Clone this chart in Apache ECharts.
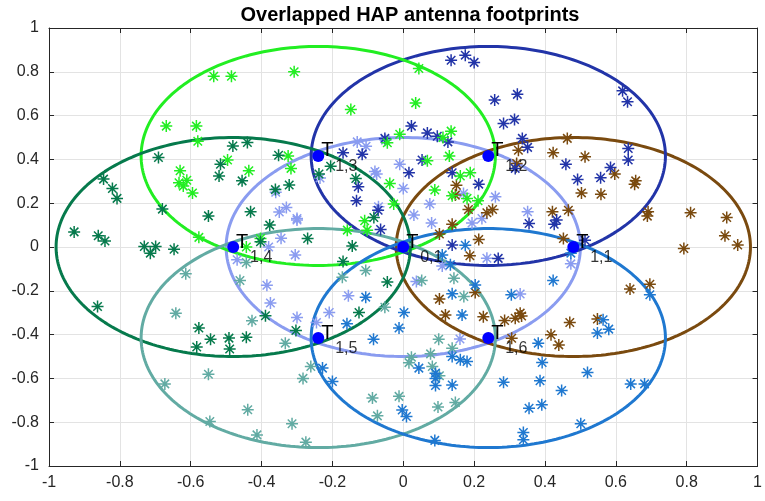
<!DOCTYPE html>
<html>
<head>
<meta charset="utf-8">
<script src="https://cdn.jsdelivr.net/npm/echarts@6/dist/echarts.min.js"></script>
<style>
  html, body { margin: 0; padding: 0; background: #ffffff; }
  #chart { width: 765px; height: 501px; }
</style>
</head>
<body>
<div id="chart"></div>
<script>
// Antenna footprints: hexagonal layout around the central cell
const cellNames = ['0,1', '1,1', '1,2', '1,3', '1,4', '1,5', '1,6'];
const cellCentersX = [0, 0.48, 0.24, -0.24, -0.48, -0.24, 0.24];
const cellCentersY = [0, 0, 0.4157, 0.4157, 0, -0.4157, -0.4157];
const footprintRadius = 0.5;

const axisTicks = [-1, -0.8, -0.6, -0.4, -0.2, 0, 0.2, 0.4, 0.6, 0.8, 1];

// User positions served by each antenna
const users01 = [[-0.36,0.25],[-0.35,0.16],[-0.33,0.18],[-0.30,0.13],[-0.345,0.04],[-0.38,0.0],[-0.13,0.48],[-0.105,0.46],[-0.235,0.315],[-0.08,0.345],[-0.05,0.488],[-0.01,0.378],[-0.075,0.333],[0.0,0.267],[0.075,0.196],[0.03,0.146],[0.08,0.11],[-0.07,0.184],[-0.30,0.123],[0.17,0.244],[0.26,0.229],[0.222,0.13],[0.194,0.11],[0.351,0.161],[-0.469,-0.058],[-0.385,-0.175],[-0.375,-0.256],[-0.305,-0.036],[-0.30,-0.322],[-0.209,-0.299],[-0.245,-0.345],[-0.155,-0.223],[0.037,-0.157],[0.16,-0.42],[0.236,-0.051],[0.11,-0.087],[0.473,-0.077],[0.33,-0.215]];
const users11 = [[0.325,0.442],[0.32,0.381],[0.15,0.282],[0.147,0.237],[0.184,0.171],[0.236,0.156],[0.252,0.171],[0.138,0.104],[0.102,0.059],[0.213,0.034],[0.463,0.496],[0.423,0.43],[0.513,0.412],[0.597,0.333],[0.656,0.302],[0.653,0.287],[0.503,0.247],[0.558,0.241],[0.421,0.161],[0.466,0.168],[0.691,0.161],[0.689,0.141],[0.811,0.156],[0.913,0.135],[0.908,0.051],[0.944,0.009],[0.792,-0.007],[0.452,0.039],[0.64,-0.192],[0.696,-0.17],[0.47,-0.345],[0.548,-0.329],[0.417,-0.401],[0.439,-0.447],[0.334,-0.315],[0.188,-0.04],[0.102,-0.238],[0.119,-0.31],[0.226,-0.318],[0.203,-0.208],[0.286,-0.336],[0.316,-0.325],[0.33,-0.302],[0.306,-0.417]];
const users12 = [[0.135,0.853],[0.175,0.876],[0.2,0.843],[0.258,0.671],[0.322,0.697],[0.283,0.564],[0.314,0.582],[0.336,0.496],[0.023,0.552],[0.068,0.521],[0.096,0.506],[0.126,0.48],[-0.052,0.496],[-0.17,0.43],[-0.116,0.424],[0.053,0.397],[0.016,0.339],[0.138,0.339],[0.213,0.287],[0.316,0.359],[-0.127,0.275],[-0.132,0.211],[-0.071,0.168],[-0.064,0.08],[0.138,0.009],[0.619,0.713],[0.633,0.663],[0.351,0.455],[0.459,0.378],[0.492,0.308],[0.557,0.316],[0.585,0.363],[0.635,0.45],[0.635,0.397],[0.355,0.107],[0.433,0.123],[0.426,0.104],[0.513,0.031],[0.268,-0.052]];
const users13 = [[-0.535,0.78],[-0.485,0.78],[-0.669,0.552],[-0.584,0.552],[-0.58,0.483],[-0.496,0.397],[-0.63,0.348],[-0.436,0.348],[-0.611,0.305],[-0.633,0.293],[-0.621,0.278],[-0.595,0.247],[-0.577,0.044],[-0.403,0.039],[-0.443,0.0],[-0.308,0.8],[0.044,0.815],[-0.148,0.628],[0.035,0.658],[-0.01,0.515],[-0.045,0.476],[0.135,0.529],[0.112,0.5],[0.13,0.415],[0.068,0.394],[-0.317,0.359],[-0.325,0.416],[-0.038,0.29],[0.089,0.26],[0.161,0.324],[0.189,0.339],[0.138,0.234],[0.18,0.222],[0.211,0.211],[-0.027,0.196],[-0.109,0.12],[-0.158,0.077],[-0.102,0.077]];
const users14 = [[-0.691,0.409],[-0.481,0.461],[-0.44,0.477],[-0.516,0.378],[-0.52,0.324],[-0.455,0.302],[-0.352,0.419],[-0.846,0.31],[-0.821,0.267],[-0.808,0.222],[-0.68,0.173],[-0.55,0.142],[-0.431,0.161],[-0.377,0.1],[-0.361,0.262],[-0.929,0.069],[-0.861,0.051],[-0.842,0.027],[-0.731,0.002],[-0.699,0.002],[-0.714,-0.028],[-0.647,-0.01],[-0.403,0.024],[-0.322,0.283],[-0.238,0.333],[-0.205,0.369],[-0.134,0.313],[-0.27,0.039],[-0.083,0.135],[-0.144,0.004],[-0.863,-0.272],[-0.577,-0.37],[-0.544,-0.421],[-0.492,-0.416],[-0.443,-0.412],[-0.583,-0.457],[-0.49,-0.466],[-0.389,-0.314],[-0.17,-0.066],[-0.045,-0.16],[-0.125,-0.299],[-0.303,-0.381]];
const users15 = [[-0.614,-0.122],[-0.461,-0.153],[-0.443,-0.071],[-0.642,-0.302],[-0.427,-0.337],[-0.333,-0.439],[-0.55,-0.581],[-0.673,-0.625],[-0.439,-0.743],[-0.546,-0.797],[-0.413,-0.858],[-0.106,-0.107],[-0.172,-0.138],[0.052,-0.153],[-0.052,-0.275],[0.1,-0.421],[0.138,-0.462],[0.023,-0.503],[0.016,-0.528],[0.077,-0.488],[0.082,-0.546],[0.102,-0.588],[-0.261,-0.546],[-0.283,-0.6],[-0.087,-0.69],[-0.012,-0.682],[-0.073,-0.771],[0.098,-0.731],[0.147,-0.71],[-0.314,-0.807],[-0.275,-0.891],[0.171,-0.226],[0.143,-0.143]];
const users16 = [[0.133,-0.081],[0.203,-0.173],[0.138,-0.214],[0.166,-0.31],[0.002,-0.299],[-0.012,-0.37],[-0.106,-0.229],[-0.159,-0.351],[-0.084,-0.421],[0.138,-0.5],[0.161,-0.515],[0.18,-0.523],[0.044,-0.553],[0.091,-0.576],[0.091,-0.6],[0.091,-0.632],[0.138,-0.63],[-0.228,-0.553],[-0.2,-0.614],[-0.003,-0.744],[0.009,-0.774],[0.089,-0.883],[0.283,-0.618],[0.305,-0.218],[0.473,-0.028],[0.423,-0.153],[0.696,-0.218],[0.564,-0.332],[0.58,-0.375],[0.548,-0.393],[0.381,-0.439],[0.392,-0.527],[0.386,-0.611],[0.52,-0.573],[0.447,-0.655],[0.642,-0.625],[0.681,-0.625],[0.355,-0.736],[0.391,-0.72],[0.501,-0.807],[0.339,-0.847],[0.339,-0.88],[0.175,0.008],[0.11,-0.036]];

const usersByCell = [users01, users11, users12, users13, users14, users15, users16];
const cellColors = ['#8a9cf0', '#7a4a0f', '#2234a8', '#22ee22', '#067a4c', '#62aba3', '#1f78d0'];

// 8-armed asterisk marker
const asteriskPath = 'path://M0,5L10,5M5,0L5,10M1.46,1.46L8.54,8.54M8.54,1.46L1.46,8.54';

const fontFamily = "'Liberation Sans', Arial, Helvetica, sans-serif";
const textColor = '#262626';

function footprintOutline(cx, cy, r) {
  const pts = [];
  const n = 240;
  for (let k = 0; k <= n; k++) {
    const a = 2 * Math.PI * k / n;
    pts.push([cx + r * Math.cos(a), cy + r * Math.sin(a)]);
  }
  return pts;
}

const series = [];

// footprint outlines
cellNames.forEach((name, i) => {
  series.push({
    type: 'line',
    name: 'footprint ' + name,
    data: footprintOutline(cellCentersX[i], cellCentersY[i], footprintRadius),
    showSymbol: false,
    symbol: 'none',
    smooth: false,
    silent: true,
    lineStyle: { color: cellColors[i], width: 3 },
    z: 2
  });
});

// users
cellNames.forEach((name, i) => {
  series.push({
    type: 'scatter',
    name: 'users ' + name,
    data: usersByCell[i],
    symbol: asteriskPath,
    symbolSize: 12,
    silent: true,
    itemStyle: { color: 'rgba(0,0,0,0)', borderColor: cellColors[i], borderWidth: 1.5, opacity: 1 },
    z: 3
  });
});

// antenna positions with T labels
const towerData = cellNames.map((name, i) => ({ value: [cellCentersX[i], cellCentersY[i]], name: name }));
series.push({
  type: 'scatter',
  name: 'antennas',
  data: towerData,
  symbol: 'circle',
  symbolSize: 12,
  silent: true,
  itemStyle: { color: '#0000ff', opacity: 1 },
  label: {
    show: true,
    position: 'inside',
    offset: [9, -5],
    formatter: 'T',
    color: '#000000',
    fontFamily: fontFamily,
    fontSize: 20
  },
  z: 5
});
series.push({
  type: 'scatter',
  name: 'antenna index',
  data: towerData,
  symbolSize: 1,
  silent: true,
  itemStyle: { color: 'rgba(0,0,0,0)' },
  label: {
    show: true,
    position: 'inside',
    offset: [28, 11],
    formatter: (p) => p.name,
    color: '#000000',
    fontFamily: fontFamily,
    fontSize: 16
  },
  z: 5
});

const baseAxis = {
  type: 'value',
  min: -1,
  max: 1,
  interval: 0.2
};

const option = {
  animation: false,
  backgroundColor: '#ffffff',
  title: {
    text: 'Overlapped HAP antenna footprints',
    left: 405,
    textAlign: 'center',
    top: 0,
    textStyle: { fontFamily: fontFamily, fontWeight: 'bold', fontSize: 20, color: '#000000' }
  },
  grid: { left: 49, right: 3, top: 28, bottom: 35, containLabel: false },
  xAxis: [
    Object.assign({}, baseAxis, {
      position: 'bottom',
      axisLine: { show: true, onZero: false, lineStyle: { color: textColor, width: 1 } },
      axisTick: { show: true, inside: true, length: 5, lineStyle: { color: textColor } },
      axisLabel: { show: true, margin: 9, color: textColor, fontFamily: fontFamily, fontSize: 16,
        formatter: (v) => String(Math.round(v * 10) / 10) },
      splitLine: { show: true, lineStyle: { color: '#e3e3e3', width: 1 } }
    }),
    Object.assign({}, baseAxis, {
      position: 'top',
      axisLine: { show: true, onZero: false, lineStyle: { color: textColor, width: 1 } },
      axisTick: { show: true, inside: true, length: 5, lineStyle: { color: textColor } },
      axisLabel: { show: false },
      splitLine: { show: false }
    })
  ],
  yAxis: [
    Object.assign({}, baseAxis, {
      position: 'left',
      axisLine: { show: true, onZero: false, lineStyle: { color: textColor, width: 1 } },
      axisTick: { show: true, inside: true, length: 5, lineStyle: { color: textColor } },
      axisLabel: { show: true, margin: 10, color: textColor, fontFamily: fontFamily, fontSize: 16,
        formatter: (v) => String(Math.round(v * 10) / 10) },
      splitLine: { show: true, lineStyle: { color: '#e3e3e3', width: 1 } }
    }),
    Object.assign({}, baseAxis, {
      position: 'right',
      axisLine: { show: true, onZero: false, lineStyle: { color: textColor, width: 1 } },
      axisTick: { show: true, inside: true, length: 5, lineStyle: { color: textColor } },
      axisLabel: { show: false },
      splitLine: { show: false }
    })
  ],
  series: series
};

const chart = echarts.init(document.getElementById('chart'), null, { renderer: 'canvas' });
chart.setOption(option);
</script>
</body>
</html>
